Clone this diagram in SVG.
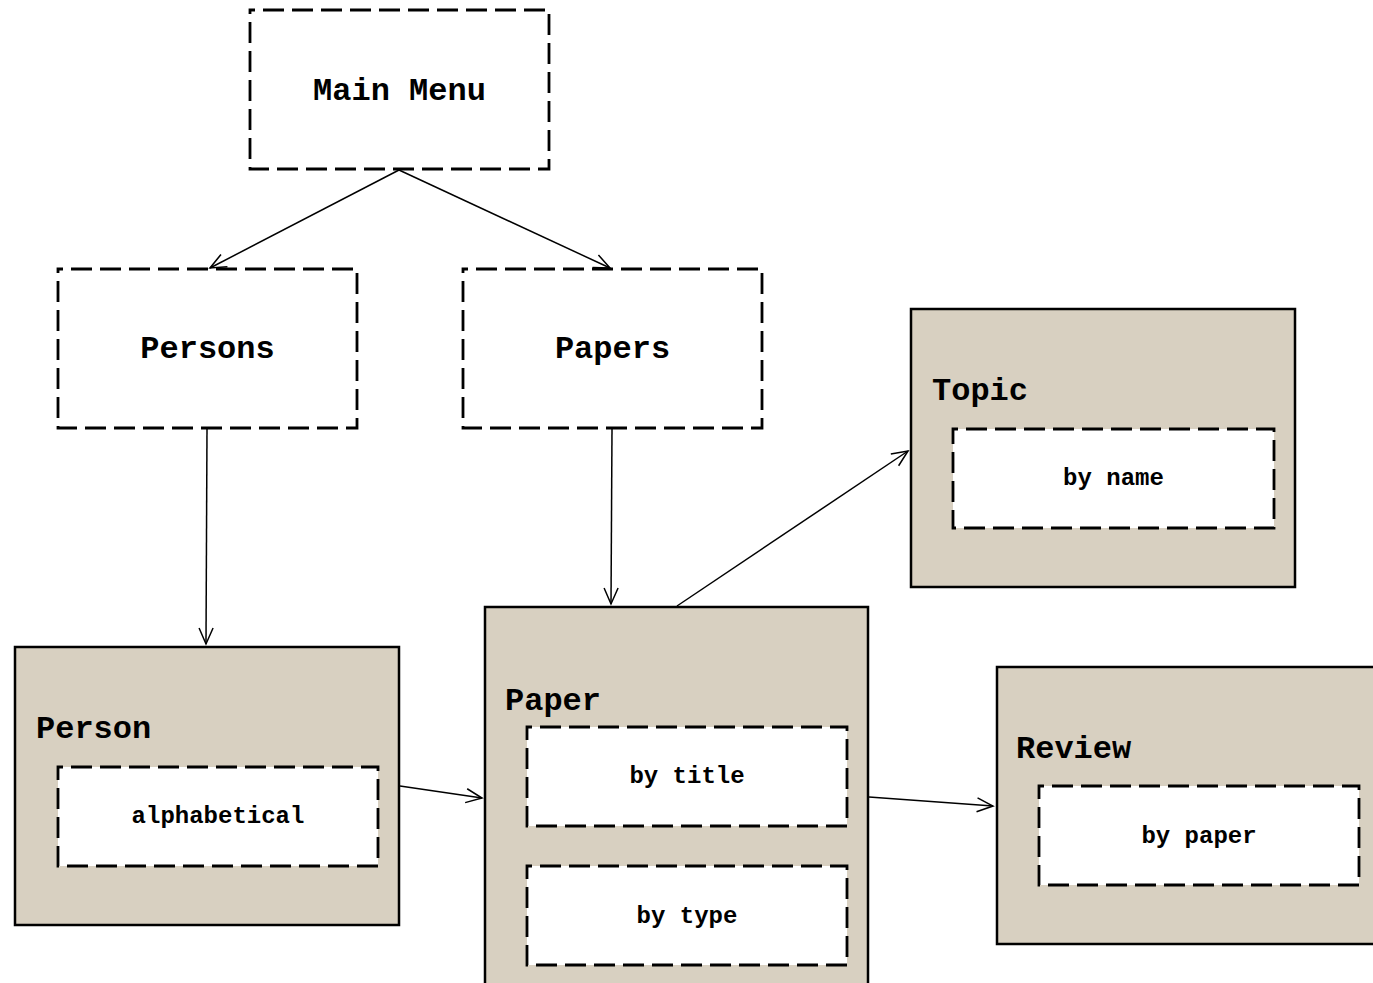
<svg xmlns="http://www.w3.org/2000/svg" width="1373" height="983" viewBox="0 0 1373 983">
  <style>
    .menu { fill: #ffffff; stroke: #000000; stroke-width: 2.8; stroke-dasharray: 21 8; stroke-dashoffset: 16; }
    .entity { fill: #d8d0c1; stroke: #000000; stroke-width: 2.5; }
    .view { fill: #ffffff; stroke: #000000; stroke-width: 2.8; stroke-dasharray: 21 8; stroke-dashoffset: 16; }
    .big { font-family: "Liberation Mono", "Courier New", monospace; font-weight: bold; font-size: 32px; fill: #000000; }
    .small { font-family: "Liberation Mono", "Courier New", monospace; font-weight: bold; font-size: 24px; fill: #000000; text-anchor: middle; }
    .mid { text-anchor: middle; }
    .edge { fill: none; stroke: #000000; stroke-width: 1.5; marker-end: url(#open); }
  </style>
  <defs>
    <marker id="open" markerUnits="userSpaceOnUse" viewBox="-18 -10 20 20" refX="0" refY="0" markerWidth="20" markerHeight="20" orient="auto">
      <path d="M-16,-7 L0,0 L-16,7" fill="none" stroke="#000000" stroke-width="1.5"/>
    </marker>
  </defs>
  <rect width="1373" height="983" fill="#ffffff"/>

  <!-- menu screens -->
  <g id="main-menu">
    <rect class="menu" x="250" y="10" width="299" height="159"/>
    <text class="big mid" x="399.5" y="100">Main Menu</text>
  </g>
  <g id="persons">
    <rect class="menu" x="58" y="269" width="299" height="159"/>
    <text class="big mid" x="207.5" y="358">Persons</text>
  </g>
  <g id="papers">
    <rect class="menu" x="463" y="269" width="299" height="159"/>
    <text class="big mid" x="612.5" y="358">Papers</text>
  </g>

  <!-- entity screens with their list views -->
  <g id="topic">
    <rect class="entity" x="911" y="309" width="384" height="278"/>
    <text class="big" x="932" y="400">Topic</text>
    <rect class="view" x="953" y="429" width="321" height="99"/>
    <text class="small" x="1113.5" y="485">by name</text>
  </g>
  <g id="person">
    <rect class="entity" x="15" y="647" width="384" height="278"/>
    <text class="big" x="36" y="738">Person</text>
    <rect class="view" x="58" y="767" width="320" height="99"/>
    <text class="small" x="218" y="823">alphabetical</text>
  </g>
  <g id="paper">
    <rect class="entity" x="485" y="607" width="383" height="400"/>
    <text class="big" x="505" y="710">Paper</text>
    <rect class="view" x="527" y="727" width="320" height="99"/>
    <text class="small" x="687" y="783">by title</text>
    <rect class="view" x="527" y="866" width="320" height="99"/>
    <text class="small" x="687" y="923">by type</text>
  </g>
  <g id="review">
    <rect class="entity" x="997" y="667" width="400" height="277"/>
    <text class="big" x="1016" y="758">Review</text>
    <rect class="view" x="1039" y="786" width="320" height="99"/>
    <text class="small" x="1199" y="843">by paper</text>
  </g>

  <g id="connectors">
    <line class="edge" x1="399" y1="170" x2="210" y2="268"/>
    <line class="edge" x1="399" y1="170" x2="610" y2="268"/>
    <line class="edge" x1="207" y1="429" x2="206" y2="644"/>
    <line class="edge" x1="612" y1="429" x2="611" y2="604"/>
    <line class="edge" x1="677" y1="606" x2="908" y2="451"/>
    <line class="edge" x1="400" y1="786" x2="482" y2="798"/>
    <line class="edge" x1="869" y1="797" x2="993" y2="806"/>
  </g>
</svg>
